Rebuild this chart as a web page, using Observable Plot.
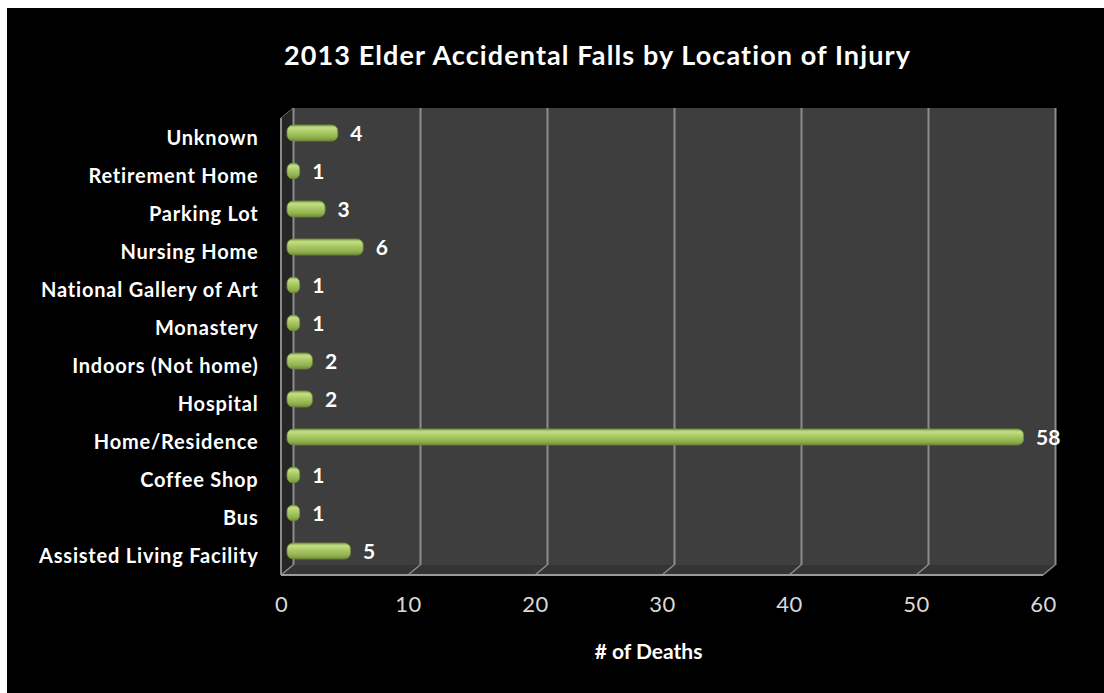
<!DOCTYPE html>
<html>
<head>
<meta charset="utf-8">
<script src="https://cdn.jsdelivr.net/npm/d3@7"></script>
<script src="https://cdn.jsdelivr.net/npm/@observablehq/plot@0.6"></script>
<style>
  html, body { margin: 0; padding: 0; background: #ffffff; }
  #frame { position: absolute; left: 7px; top: 8px; width: 1097px; height: 685px; background: #000; overflow: hidden; font-family: Lato, "DejaVu Sans", sans-serif; }
  #title { height: 80px; line-height: 94px; text-align: center; color: #fff; font-weight: bold; font-size: 27px; letter-spacing: 1.1px; padding-left: 84px; white-space: nowrap; }
  #chart svg { display: block; }
  g[aria-label="y-axis tick label"] text { font-weight: bold; font-size: 20px; letter-spacing: 0.8px; fill: #ffffff; }
  g[aria-label="x-axis tick label"] text { font-weight: normal; font-size: 22px; letter-spacing: 0.5px; fill: #d9d9d9; }
</style>
</head>
<body>
<div id="frame">
  <div id="title">2013 Elder Accidental Falls by Location of Injury</div>
  <div id="chart"></div>
</div>
<script>
const categories = ["Unknown","Retirement Home","Parking Lot","Nursing Home","National Gallery of Art","Monastery","Indoors (Not home)","Hospital","Home/Residence","Coffee Shop","Bus","Assisted Living Facility"];
const deaths = [4,1,3,6,1,1,2,2,58,1,1,5];
const xTicks = [0,10,20,30,40,50,60];
const xLabel = "# of Deaths";

const rows = categories.map((c, i) => ({category: c, deaths: deaths[i]}));

const DX = 12, DY = -10; // depth offset of the 3D box

// defs: cylinder gradient for bars
const defsMark = () => {
  const g = d3.create("svg:g");
  const grad = g.append("defs").append("linearGradient")
    .attr("id", "barGrad").attr("x1", 0).attr("y1", 0).attr("x2", 0).attr("y2", 1);
  [[0, "#8aa84a"], [0.18, "#c3df84"], [0.45, "#a9c966"], [0.8, "#8fae4c"], [1, "#6e8a35"]]
    .forEach(([o, c]) => grad.append("stop").attr("offset", o).attr("stop-color", c));
  return g.node();
};

// 3D box: back wall, side wall, floor
const boxMark = (index, scales, values, dims) => {
  const x = scales.x;
  const top = dims.marginTop, bottom = dims.height - dims.marginBottom;
  const x0 = x(xTicks[0]), x1 = x(xTicks[xTicks.length - 1]);
  const g = d3.create("svg:g");
  g.append("rect").attr("x", x0 + DX).attr("y", top + DY).attr("width", x1 - x0).attr("height", bottom - top).attr("fill", "#3e3e3e");
  g.append("path").attr("d", `M${x0},${top}L${x0 + DX},${top + DY}L${x0 + DX},${bottom + DY}L${x0},${bottom}Z`).attr("fill", "#262626");
  g.append("path").attr("d", `M${x0},${bottom}L${x0 + DX},${bottom + DY}L${x1 + DX},${bottom + DY}L${x1},${bottom}Z`).attr("fill", "#343434");
  g.selectAll(".diag").data(xTicks).join("line")
    .attr("x1", d => x(d)).attr("y1", bottom).attr("x2", d => x(d) + DX).attr("y2", bottom + DY)
    .attr("stroke", "#8c8c8c").attr("stroke-width", 1.5);
  g.append("line").attr("x1", x0).attr("x2", x1).attr("y1", bottom).attr("y2", bottom).attr("stroke", "#9a9a9a").attr("stroke-width", 2);
  g.append("line").attr("x1", x0).attr("x2", x0).attr("y1", top).attr("y2", bottom).attr("stroke", "#8a8a8a").attr("stroke-width", 2);
  g.append("line").attr("x1", x0).attr("x2", x0 + DX).attr("y1", top).attr("y2", top + DY).attr("stroke", "#6a6a6a").attr("stroke-width", 1);
  return g.node();
};

const chart = Plot.plot({
  width: 1097,
  height: 605,
  marginTop: 30,
  marginBottom: 118,
  marginLeft: 274,
  marginRight: 61,
  style: { background: "#000", color: "#fff", fontFamily: "Lato, 'DejaVu Sans', sans-serif" },
  x: { domain: [0, 60], ticks: xTicks },
  y: { domain: categories, padding: 0 },
  marks: [
    defsMark,
    boxMark,
    Plot.ruleX(xTicks, { dx: DX, dy: DY, stroke: "#8c8c8c", strokeWidth: 2, strokeOpacity: 1 }),
    Plot.barX(rows, { x: "deaths", y: "category", fill: "url(#barGrad)", stroke: "#6f8c37", strokeWidth: 0.8, rx: 6, insetTop: 11, insetBottom: 11, dx: DX / 2, dy: DY / 2 }),
    Plot.text(rows, { x: "deaths", y: "category", text: d => String(d.deaths), dx: DX / 2 + 12, dy: DY / 2 + 1, textAnchor: "start", fill: "#fff", fontSize: 21, fontWeight: "bold" }),
    Plot.axisY({ tickSize: 0, tickPadding: 23, label: null }),
    Plot.axisX({ ticks: xTicks, tickSize: 0, tickPadding: 21, label: null }),
    Plot.text([xLabel], { frameAnchor: "bottom", dy: 83, dx: -14, fill: "#fff", fontSize: 21, fontWeight: "bold", style: "letter-spacing:0.6px" })
  ]
});
document.getElementById("chart").appendChild(chart);
</script>
</body>
</html>
